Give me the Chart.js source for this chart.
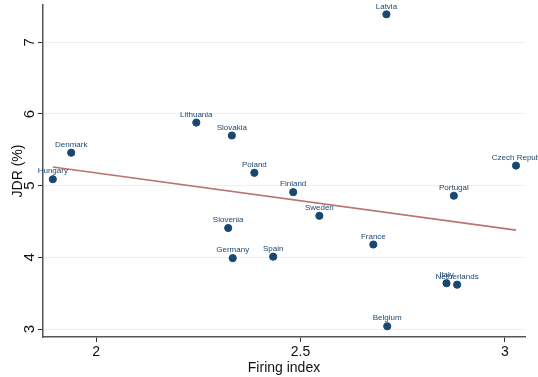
<!DOCTYPE html>
<html>
<head>
<meta charset="utf-8">
<script src="https://cdn.jsdelivr.net/npm/chart.js@4"></script>
<style>
  html, body { margin: 0; padding: 0; background: #fff; }
  #wrap { width: 538px; height: 377px; }
</style>
</head>
<body>
<div id="wrap"><canvas id="firingChart"></canvas></div>
<script>
// --- DATA ---
const countries = ['Latvia', 'Denmark', 'Hungary', 'Lithuania', 'Slovakia', 'Poland', 'Finland', 'Sweden',
    'Slovenia', 'Germany', 'Spain', 'Czech Repub', 'Portugal', 'France', 'Italy', 'Netherlands', 'Belgium'];
const firingIndex = [2.710, 1.939, 1.894, 2.245, 2.332, 2.387, 2.482, 2.546,
    2.323, 2.334, 2.433, 3.027, 2.875, 2.678, 2.857, 2.883, 2.712];
const jdr = [7.39, 5.46, 5.09, 5.88, 5.70, 5.18, 4.91, 4.58,
    4.41, 3.99, 4.01, 5.28, 4.86, 4.18, 3.64, 3.62, 3.04];
const fitX = [1.894, 3.027];
const fitY = [5.26, 4.38];
const xTicks = [2, 2.5, 3];
const yTicks = [3, 4, 5, 6, 7];

const FONT = '"Liberation Sans", Arial, Helvetica, sans-serif';
const MARKER = '#1a476f';

// draw the country names above each marker
const pointLabels = {
    id: 'pointLabels',
    afterDatasetsDraw(chart) {
        const ctx = chart.ctx;
        const meta = chart.getDatasetMeta(0);
        ctx.save();
        ctx.font = '8px ' + FONT;
        ctx.fillStyle = MARKER;
        ctx.textAlign = 'center';
        ctx.textBaseline = 'bottom';
        meta.data.forEach((pt, i) => {
            ctx.fillText(countries[i], pt.x, pt.y - 4);
        });
        ctx.restore();
    }
};

document.addEventListener('DOMContentLoaded', () => {
    const ctx = document.getElementById('firingChart');
    new Chart(ctx, {
        type: 'scatter',
        data: {
            datasets: [{
                label: 'JDR',
                data: firingIndex.map((x, i) => ({ x: x, y: jdr[i] })),
                backgroundColor: MARKER,
                borderColor: MARKER,
                pointRadius: 3.6,
                pointHoverRadius: 3.6,
                clip: false
            }, {
                type: 'line',
                label: 'Fit',
                data: fitX.map((x, i) => ({ x: x, y: fitY[i] })),
                borderColor: '#b87472',
                borderWidth: 1.6,
                pointRadius: 0,
                fill: false
            }]
        },
        options: {
            responsive: true,
            maintainAspectRatio: false,
            animation: false,
            layout: { padding: { top: 5, right: 13, left: 0, bottom: 0 } },
            plugins: {
                legend: { display: false },
                tooltip: { enabled: false }
            },
            scales: {
                x: {
                    type: 'linear',
                    min: 1.870,
                    max: 3.049,
                    afterBuildTicks: (scale) => { scale.ticks = xTicks.map(v => ({ value: v })); },
                    afterFit: (scale) => {
                        scale.height = 40;
                        scale.paddingLeft = 0;
                        scale.paddingRight = 0;
                    },
                    border: { color: '#555', width: 1.5 },
                    grid: { drawOnChartArea: false, tickLength: 5, tickColor: '#333' },
                    ticks: {
                        color: '#111',
                        font: { family: FONT, size: 14 },
                        padding: 2,
                        maxRotation: 0,
                        callback: (v) => String(v)
                    },
                    title: {
                        display: true,
                        text: 'Firing index',
                        color: '#111',
                        font: { family: FONT, size: 14 },
                        padding: { top: 0, bottom: 0 }
                    }
                },
                y: {
                    type: 'linear',
                    min: 2.89,
                    max: 7.52,
                    afterBuildTicks: (scale) => { scale.ticks = yTicks.map(v => ({ value: v })); },
                    afterFit: (scale) => {
                        scale.width = 43;
                        scale.paddingTop = 0;
                        scale.paddingBottom = 0;
                    },
                    border: { color: '#555', width: 1.5 },
                    grid: { color: '#eaf2f3', lineWidth: 1, tickLength: 5, tickColor: '#333' },
                    ticks: {
                        color: '#111',
                        font: { family: FONT, size: 15 },
                        padding: 4,
                        minRotation: 90,
                        maxRotation: 90,
                        crossAlign: 'center',
                        callback: (v) => String(v)
                    },
                    title: {
                        display: true,
                        text: 'JDR (%)',
                        color: '#111',
                        font: { family: FONT, size: 14 },
                        padding: { top: 10, bottom: 0 }
                    }
                }
            }
        },
        plugins: [pointLabels]
    });
});
</script>
</body>
</html>
